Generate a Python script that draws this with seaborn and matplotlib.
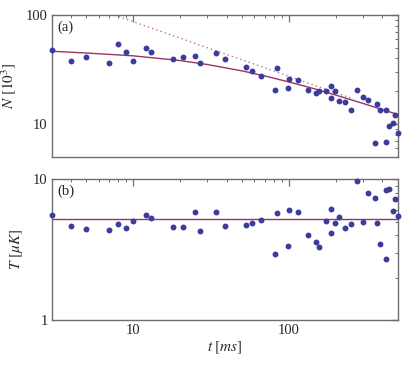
import matplotlib
matplotlib.use("Agg")
import matplotlib.pyplot as plt
import seaborn as sns
import numpy as np
import pandas as pd
from matplotlib.ticker import LogLocator, NullFormatter, FixedLocator, FixedFormatter

# ---- data ----
t_ms = [3, 4, 5, 7, 8, 9, 10, 12, 13, 18, 21, 25, 27, 34, 39, 53, 58, 66, 82, 84,
        99, 100, 114, 133, 150, 157, 173, 187, 187, 197, 211, 231, 252, 273, 301, 325,
        358, 371, 388, 422, 422, 443, 468, 484, 500]
N_1e3 = [47.7, 38.1, 41.4, 36.5, 53.9, 45.8, 38.1, 50.1, 45.5, 39.7, 40.9, 42.3, 36.5,
         44.5, 39.2, 33.4, 30.8, 27.4, 20.5, 32.4, 21.4, 26.1, 25.2, 20.6, 19.4, 20.2,
         20.3, 22.6, 17.4, 20.3, 16.3, 15.9, 13.4, 20.5, 17.8, 16.7, 6.74, 15.2, 13.4,
         13.4, 6.88, 9.64, 10.3, 12.2, 8.3]
T_uK = [5.55, 4.62, 4.42, 4.35, 4.77, 4.47, 5.06, 5.58, 5.32, 4.59, 4.59, 5.83, 4.28,
        5.8, 4.66, 4.74, 4.90, 5.1, 2.95, 5.71, 3.37, 6.0, 5.86, 4.03, 3.59, 3.31, 5.04,
        6.16, 4.14, 4.90, 5.38, 4.52, 4.77, 9.73, 4.98, 8.0, 7.33, 4.87, 3.44, 8.4, 2.69,
        8.5, 5.96, 7.2, 5.5]

# fit curve (solid)
fit_t = [3, 5, 10, 20, 30, 50, 70, 100, 150, 200, 300, 400, 500]
fit_N = [46.6, 44.9, 42.3, 38.3, 35.2, 30.8, 27.7, 24.4, 20.9, 18.5, 15.5, 13.6, 12.3]
# asymptote (dotted) end points
asym_t = [7.56, 260]
asym_N = [100, 17.05]
# mean temperature line
Tmean_t = [3, 500]
Tmean = [5.2, 5.2]

pt_color = "#3c3c9c"
line_color = "#9b3466"
frame_color = "#6e6e6e"

sns.set_theme(style="white")
plt.rcParams["font.family"] = ["Liberation Serif", "DejaVu Serif"]
plt.rcParams["mathtext.fontset"] = "stix"

fig = plt.figure(figsize=(4.15, 3.67), dpi=100)
ax1 = fig.add_axes([0.125, 0.572, 0.833, 0.387])
ax2 = fig.add_axes([0.125, 0.128, 0.833, 0.384])

df = pd.DataFrame({"t": t_ms, "N": N_1e3, "T": T_uK})

# top panel
sns.lineplot(x=asym_t, y=asym_N, ax=ax1, color="#c07090", linestyle=(0, (1, 2.2)),
             linewidth=1.0, estimator=None)
sns.lineplot(x=fit_t, y=fit_N, ax=ax1, color=line_color, linewidth=1.0, estimator=None)
sns.scatterplot(data=df, x="t", y="N", ax=ax1, color=pt_color, s=18, linewidth=0,
                clip_on=False, zorder=5)

# bottom panel
sns.lineplot(x=Tmean_t, y=Tmean, ax=ax2, color=line_color, linewidth=1.0, estimator=None)
sns.scatterplot(data=df, x="t", y="T", ax=ax2, color=pt_color, s=18, linewidth=0,
                clip_on=False, zorder=5)

for ax in (ax1, ax2):
    ax.set_xscale("log")
    ax.set_yscale("log")
    ax.set_xlim(3, 500)
    for sp in ax.spines.values():
        sp.set_color(frame_color)
        sp.set_linewidth(1.0)
    ax.xaxis.set_major_locator(FixedLocator([10, 100]))
    ax.xaxis.set_minor_locator(LogLocator(base=10, subs=np.arange(2, 10)))
    ax.xaxis.set_minor_formatter(NullFormatter())
    ax.yaxis.set_minor_locator(LogLocator(base=10, subs=np.arange(2, 10)))
    ax.yaxis.set_minor_formatter(NullFormatter())
    ax.tick_params(which="both", direction="in", top=True, right=True,
                   color=frame_color, labelsize=10.5, pad=3)
    ax.tick_params(which="major", length=5, width=0.9)
    ax.tick_params(which="minor", length=2.5, width=0.7)
    ax.set_xlabel("")
    ax.set_ylabel("")

ax1.set_ylim(5, 100)
ax1.yaxis.set_major_locator(FixedLocator([10, 100]))
ax1.yaxis.set_major_formatter(FixedFormatter(["10", "100"]))
ax1.set_xticklabels([])
ax1.tick_params(axis="x", labelbottom=False)

ax2.set_ylim(1, 10)
ax2.yaxis.set_major_locator(FixedLocator([1, 10]))
ax2.yaxis.set_major_formatter(FixedFormatter(["1", "10"]))
ax2.xaxis.set_major_formatter(FixedFormatter(["10", "100"]))

ax1.set_ylabel(r"$N\ [10^3]$", fontsize=11, labelpad=6)
ax2.set_ylabel(r"$T\ [\mu K]$", fontsize=11, labelpad=6)
ax2.set_xlabel(r"$t\ [ms]$", fontsize=11, labelpad=2)

ax1.text(0.015, 0.965, "(a)", transform=ax1.transAxes, ha="left", va="top", fontsize=10.5)
ax2.text(0.015, 0.965, "(b)", transform=ax2.transAxes, ha="left", va="top", fontsize=10.5)

fig.savefig("out.png", dpi=100)
